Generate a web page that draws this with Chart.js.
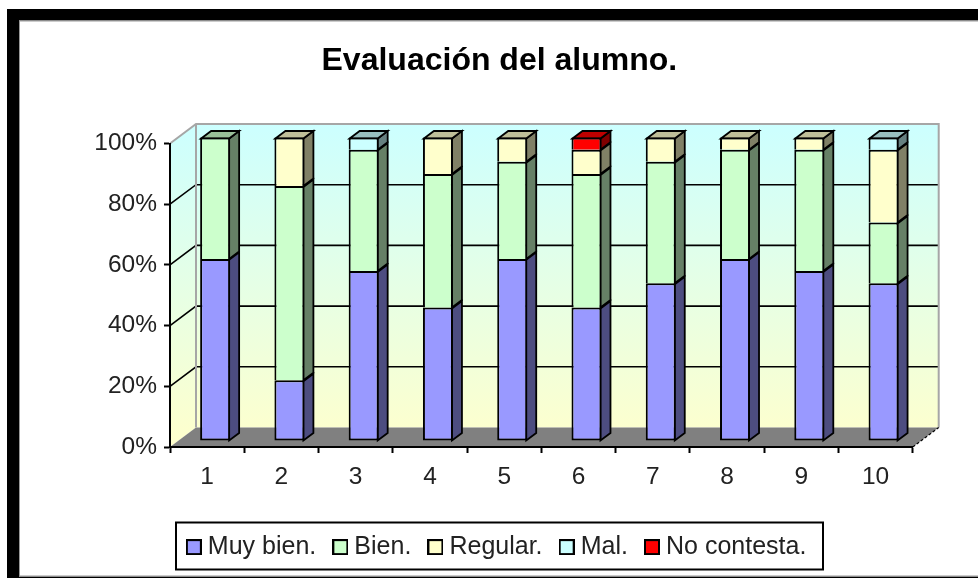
<!DOCTYPE html>
<html><head><meta charset="utf-8">
<style>html,body{margin:0;padding:0;background:#fff}canvas{display:block;filter:blur(0.45px)}#w{width:978px;height:578px}</style>
<script src="https://cdn.jsdelivr.net/npm/chart.js@4"></script>
</head><body><div id="w"><canvas id="c" width="978" height="578"></canvas></div>
<script>
const categories = ['1','2','3','4','5','6','7','8','9','10'];
const muyBien = [60,20,56,44,60,44,52,60,56,52];
const bien    = [40,64,40,44,32,44,40,36,40,20];
const regular = [ 0,16, 0,12, 8, 8, 8, 4, 4,24];
const mal     = [ 0, 0, 4, 0, 0, 0, 0, 0, 0, 4];
const noContesta = [0,0, 0, 0, 0, 4, 0, 0, 0, 0];
const seriesNames = ['Muy bien.','Bien.','Regular.','Mal.','No contesta.'];
const seriesValues = [muyBien,bien,regular,mal,noContesta];
const frontColors = ['#9999ff','#ccffcc','#ffffcc','#ccffff','#ff0000'];
const sideColors  = ['#4d4d80','#668066','#808066','#668080','#800000'];
const topColors   = ['#7373bf','#99bf99','#bfbf99','#99bfbf','#bf0000'];
const FONT = '"Liberation Sans", Arial, sans-serif';
const INK = '#222';
const WALL = {dx:26, dy:-19.5};      // depth of the 3D box
const BAR  = {ox:8, oy:-6, dx:10, dy:-7.5}; // bar position and depth inside the box

function swatch(color){
  const s=document.createElement('canvas'); s.width=16; s.height=16;
  const g=s.getContext('2d'); g.fillStyle='#000'; g.fillRect(0,0,16,16);
  g.fillStyle=color; g.fillRect(2,2,12,12); return s;
}
const swatches = frontColors.map(swatch);

function poly(ctx,pts,fill,stroke,lw){
  ctx.beginPath(); pts.forEach((p,i)=>i?ctx.lineTo(p[0],p[1]):ctx.moveTo(p[0],p[1])); ctx.closePath();
  if(fill){ctx.fillStyle=fill;ctx.fill();}
  if(stroke){ctx.strokeStyle=stroke;ctx.lineWidth=lw||1;ctx.stroke();}
}

const box3d = {
  id:'box3d',
  beforeDraw(chart){
    const ctx=chart.ctx, a=chart.chartArea, y=chart.scales.y;
    const {dx,dy}=WALL, L=a.left,R=a.right,T=a.top,B=a.bottom;
    ctx.save();
    ctx.fillStyle='#fff'; ctx.fillRect(0,0,978,578);
    // outer frame
    ctx.fillStyle='#000';
    ctx.fillRect(7,9,971,11.5); ctx.fillRect(7,9,12,569); ctx.fillRect(7,576.5,971,1.5);
    ctx.fillStyle='#999'; ctx.fillRect(19,20.5,959,1); ctx.fillRect(19,20.5,1,556); ctx.fillRect(19,575.5,959,1);
    // walls
    const g=ctx.createLinearGradient(0,T+dy,0,B);
    g.addColorStop(0,'#ccffff'); g.addColorStop(1,'#ffffcc');
    poly(ctx,[[L+dx,T+dy],[R+dx,T+dy],[R+dx,B+dy],[L+dx,B+dy]],g);
    poly(ctx,[[L,T],[L+dx,T+dy],[L+dx,B+dy],[L,B]],g);
    poly(ctx,[[L,B],[R,B],[R+dx,B+dy],[L+dx,B+dy]],'#808080');
    // gridlines
    ctx.strokeStyle='#000'; ctx.lineWidth=1.6;
    y.ticks.forEach(t=>{
      if(t.value===0||t.value===100) return;
      const py=y.getPixelForValue(t.value);
      ctx.beginPath(); ctx.moveTo(L,py); ctx.lineTo(L+dx,py+dy); ctx.lineTo(R+dx,py+dy); ctx.stroke();
    });
    // wall edges
    ctx.strokeStyle='#a6a6a6'; ctx.lineWidth=2;
    ctx.beginPath(); ctx.moveTo(L,T); ctx.lineTo(L+dx,T+dy); ctx.lineTo(R+dx,T+dy); ctx.lineTo(R+dx,B+dy);
    ctx.moveTo(L+dx,T+dy); ctx.lineTo(L+dx,B+dy); ctx.stroke();
    ctx.strokeStyle='#000'; ctx.lineWidth=1.2; ctx.setLineDash([3,2]);
    ctx.beginPath(); ctx.moveTo(R,B); ctx.lineTo(R+dx,B+dy); ctx.stroke();
    ctx.setLineDash([]);
    ctx.restore();
  },
  beforeDatasetDraw(chart,args){
    const ctx=chart.ctx, i=args.index;
    ctx.save(); ctx.translate(BAR.ox,BAR.oy);
    const {dx,dy}=BAR;
    args.meta.data.forEach((el,k)=>{
      if(!seriesValues[i][k]) return;
      const p=el.getProps(['x','y','base','width'],true);
      const r=p.x+p.width/2-1, l=p.x-p.width/2+1, t=p.y+1, b=p.base;
      poly(ctx,[[r,t],[r+dx,t+dy],[r+dx,b+dy],[r,b]],sideColors[i],'#000',1.8);
      const topmost=!seriesValues.slice(i+1).some(s=>s[k]);
      if(topmost) poly(ctx,[[l,t],[l+dx,t+dy],[r+dx,t+dy],[r,t]],topColors[i],'#000',1.8);
    });
  },
  afterDatasetDraw(chart){ chart.ctx.restore(); },
  afterDraw(chart){
    const ctx=chart.ctx;
    ctx.save(); ctx.strokeStyle='#000'; ctx.lineWidth=2;
    ctx.strokeRect(176,522.5,647,47);
    ctx.restore();
  }
};

new Chart(document.getElementById('c'),{
  type:'bar',
  plugins:[box3d],
  data:{labels:categories,datasets:seriesNames.map((n,i)=>({
    label:n,data:seriesValues[i],backgroundColor:frontColors[i],borderColor:'#000',
    borderWidth:2,borderSkipped:i===0?false:'start',inflateAmount:0,clip:false,
    barPercentage:0.404,categoryPercentage:1
  }))},
  options:{
    responsive:false,animation:false,
    layout:{padding:{left:86,right:65.3,top:0,bottom:8.4}},
    plugins:{
      tooltip:{enabled:false},
      title:{display:true,text:'Evaluación del alumno.',color:'#000',
        font:{family:FONT,size:32,weight:'bold'},padding:{top:42,bottom:63.1}},
      legend:{position:'bottom',labels:{
        font:{family:FONT,size:25},color:INK,usePointStyle:true,pointStyleWidth:3,boxHeight:25,padding:22.6,
        generateLabels:c=>c.data.datasets.map((d,i)=>({text:d.label,pointStyle:swatches[i],fontColor:INK,datasetIndex:i,hidden:false,lineWidth:0}))
      }}
    },
    scales:{
      x:{stacked:true,offset:true,
        grid:{drawOnChartArea:false,offset:true,tickLength:6,tickColor:'#000',tickWidth:2},
        border:{color:'#000',width:2},
        ticks:{color:INK,font:{family:FONT,size:24.5},padding:10,maxRotation:0},
        afterFit(s){s.height=65;}},
      y:{stacked:true,min:0,max:100,
        grid:{drawOnChartArea:false,tickLength:6,tickColor:'#000',tickWidth:2},
        border:{color:'#000',width:2},
        ticks:{stepSize:20,color:INK,font:{family:FONT,size:24.5},padding:7,callback:v=>v+'%'},
        afterFit(s){s.width=84;}}
    }
  }
});
</script></body></html>
